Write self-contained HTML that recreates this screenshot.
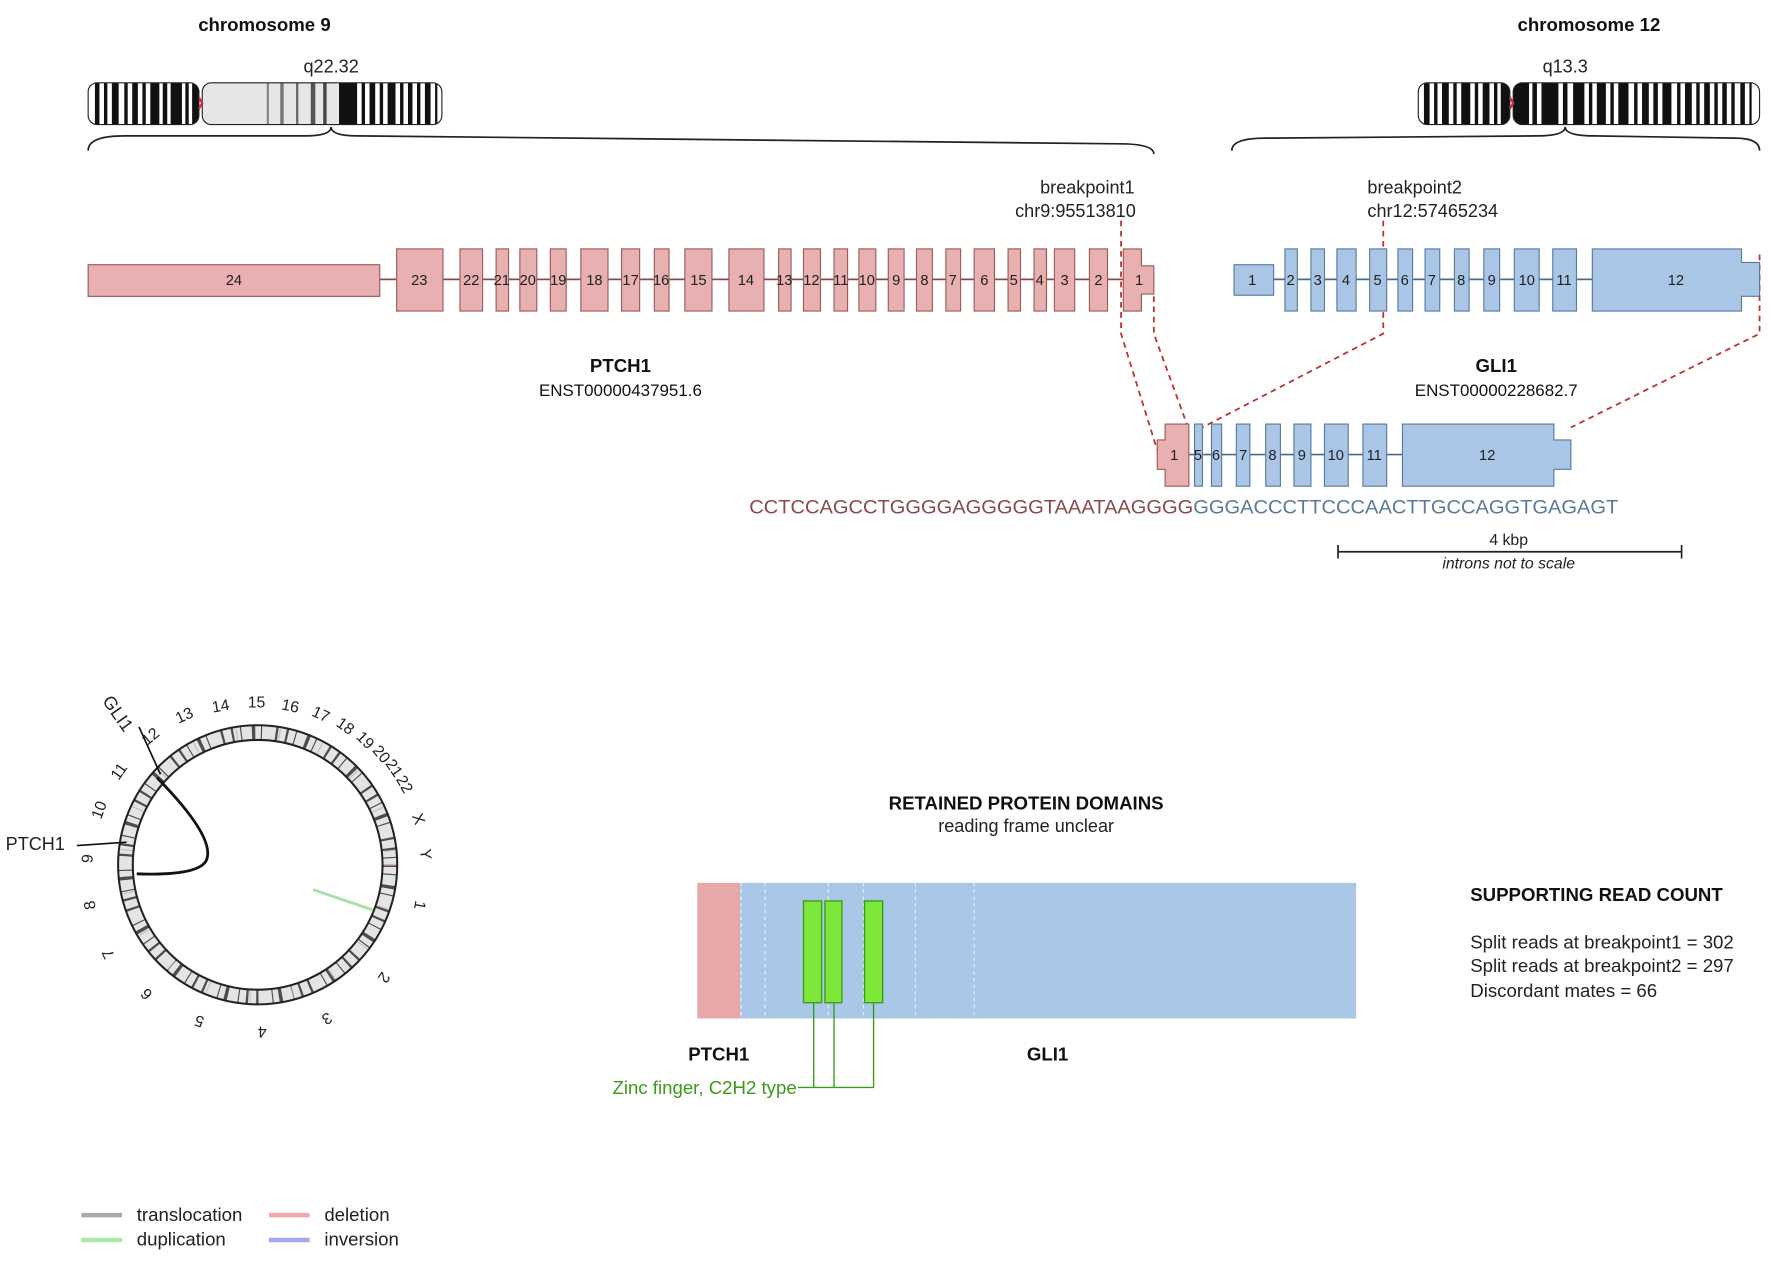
<!DOCTYPE html>
<html><head><meta charset="utf-8"><style>
html,body{margin:0;padding:0;background:#fff;}
svg{display:block;font-family:"Liberation Sans",sans-serif;}
</style></head><body>
<svg width="1772" height="1264" viewBox="0 0 1568 1118" xmlns="http://www.w3.org/2000/svg">
<defs>
<clipPath id="c9"><rect x="78" y="73" width="98" height="37" rx="8"/><rect x="179" y="73" width="212" height="37" rx="8"/></clipPath>
<clipPath id="c12"><rect x="1255" y="73" width="81" height="37" rx="8"/><rect x="1339" y="73" width="218" height="37" rx="8"/></clipPath>
</defs>
<!-- titles -->
<g font-weight="bold" font-size="16.5" text-anchor="middle" fill="#111">
<text x="234" y="27">chromosome 9</text>
<text x="1406" y="27">chromosome 12</text>
</g>
<g font-size="16" text-anchor="middle" fill="#222">
<text x="293" y="64">q22.32</text>
<text x="1385" y="64">q13.3</text>
</g>
<!-- chr9 ideogram -->
<g clip-path="url(#c9)">
<rect x="78" y="73" width="313" height="37" fill="#fff"/>
<rect x="180" y="73" width="120" height="37" fill="#e6e6e6"/>
<g fill="#111">
<rect x="84" y="73" width="4" height="37"/><rect x="92" y="73" width="3" height="37"/><rect x="99" y="73" width="6" height="37"/><rect x="110" y="73" width="3" height="37"/><rect x="117" y="73" width="5" height="37"/><rect x="126" y="73" width="3" height="37"/><rect x="133" y="73" width="8" height="37"/><rect x="144" y="73" width="4" height="37"/><rect x="151" y="73" width="10" height="37"/><rect x="164" y="73" width="3" height="37"/><rect x="170" y="73" width="6" height="37"/>
<rect x="236" y="73" width="2" height="37" fill="#888"/><rect x="248" y="73" width="3" height="37" fill="#777"/><rect x="262" y="73" width="2" height="37" fill="#666"/><rect x="275" y="73" width="4" height="37" fill="#555"/><rect x="286" y="73" width="3" height="37" fill="#444"/>
<rect x="300" y="73" width="16" height="37"/><rect x="320" y="73" width="3" height="37"/><rect x="327" y="73" width="5" height="37"/><rect x="336" y="73" width="3" height="37"/><rect x="343" y="73" width="7" height="37"/><rect x="354" y="73" width="3" height="37"/><rect x="361" y="73" width="4" height="37"/><rect x="369" y="73" width="3" height="37"/><rect x="376" y="73" width="5" height="37"/><rect x="385" y="73" width="2" height="37"/>
</g>
</g>
<rect x="78" y="73" width="98" height="37" rx="8" fill="none" stroke="#222"/>
<rect x="179" y="73" width="212" height="37" rx="8" fill="none" stroke="#222"/>
<path d="M176 86 L179 91 L176 96" stroke="#c33" fill="none" stroke-width="2"/>
<!-- chr12 ideogram -->
<g clip-path="url(#c12)">
<rect x="1255" y="73" width="302" height="37" fill="#fff"/>
<g fill="#111">
<rect x="1260" y="73" width="5" height="37"/><rect x="1269" y="73" width="3" height="37"/><rect x="1276" y="73" width="6" height="37"/><rect x="1286" y="73" width="3" height="37"/><rect x="1293" y="73" width="8" height="37"/><rect x="1305" y="73" width="3" height="37"/><rect x="1312" y="73" width="6" height="37"/><rect x="1322" y="73" width="3" height="37"/><rect x="1328" y="73" width="8" height="37"/>
<rect x="1339" y="73" width="14" height="37"/><rect x="1356" y="73" width="4" height="37"/><rect x="1364" y="73" width="15" height="37"/><rect x="1383" y="73" width="4" height="37"/><rect x="1392" y="73" width="10" height="37"/><rect x="1406" y="73" width="3" height="37"/><rect x="1413" y="73" width="8" height="37"/><rect x="1425" y="73" width="3" height="37"/><rect x="1432" y="73" width="9" height="37"/><rect x="1446" y="73" width="3" height="37"/><rect x="1453" y="73" width="6" height="37"/><rect x="1463" y="73" width="4" height="37"/><rect x="1471" y="73" width="8" height="37"/><rect x="1484" y="73" width="3" height="37"/><rect x="1491" y="73" width="6" height="37"/><rect x="1501" y="73" width="3" height="37"/><rect x="1508" y="73" width="5" height="37"/><rect x="1517" y="73" width="3" height="37"/><rect x="1524" y="73" width="4" height="37"/><rect x="1532" y="73" width="3" height="37"/><rect x="1540" y="73" width="4" height="37"/><rect x="1548" y="73" width="2" height="37"/>
</g>
</g>
<rect x="1255" y="73" width="81" height="37" rx="8" fill="none" stroke="#222"/>
<rect x="1339" y="73" width="218" height="37" rx="8" fill="none" stroke="#222"/>
<path d="M1336 86 L1339 91 L1336 96" stroke="#c33" fill="none" stroke-width="2"/>
<!-- braces -->
<path d="M78 133 Q78 120 110 120 L270 120 Q293 120 293 112 Q293 120 316 120 L990 127 Q1021 127 1021 136" fill="none" stroke="#222" stroke-width="1.5"/>
<path d="M1090 133 Q1090 122 1120 122 L1360 120 Q1385 120 1385 112 Q1385 120 1410 120 L1535 122 Q1557 122 1557 133" fill="none" stroke="#222" stroke-width="1.5"/>
<!-- breakpoint labels -->
<g font-size="16" fill="#222">
<text x="1004" y="171" text-anchor="end">breakpoint1</text>
<text x="1005" y="192" text-anchor="end">chr9:95513810</text>
<text x="1210" y="171">breakpoint2</text>
<text x="1210" y="192">chr12:57465234</text>
</g>
<!-- dashed connectors -->
<g stroke="#b33" stroke-width="1.6" stroke-dasharray="5,4" fill="none">
<path d="M992 195 L992 295 L1024 398"/>
<path d="M1021 262 L1021 295 L1052 380"/>
<path d="M1224 195 L1224 295 L1060 380"/>
<path d="M1557 225 L1557 295 L1390 378"/>
</g>
<!-- PTCH1 gene -->
<line x1="336" y1="247" x2="1021" y2="247" stroke="#8a4a4a" stroke-width="1.5"/>
<g fill="#e8b0b0" stroke="#9a5a5a" stroke-width="1">
<rect x="78" y="234" width="258" height="28"/>
<rect x="351" y="220" width="41" height="55"/>
<rect x="407" y="220" width="20" height="55"/>
<rect x="439" y="220" width="11" height="55"/>
<rect x="460" y="220" width="15" height="55"/>
<rect x="487" y="220" width="14" height="55"/>
<rect x="514" y="220" width="24" height="55"/>
<rect x="550" y="220" width="16" height="55"/>
<rect x="579" y="220" width="13" height="55"/>
<rect x="606" y="220" width="24" height="55"/>
<rect x="645" y="220" width="31" height="55"/>
<rect x="689" y="220" width="11" height="55"/>
<rect x="711" y="220" width="15" height="55"/>
<rect x="738" y="220" width="12" height="55"/>
<rect x="760" y="220" width="15" height="55"/>
<rect x="786" y="220" width="14" height="55"/>
<rect x="811" y="220" width="14" height="55"/>
<rect x="837" y="220" width="13" height="55"/>
<rect x="862" y="220" width="18" height="55"/>
<rect x="892" y="220" width="11" height="55"/>
<rect x="915" y="220" width="11" height="55"/>
<rect x="933" y="220" width="18" height="55"/>
<rect x="964" y="220" width="16" height="55"/>
<path d="M994 220 H1010 V235 H1021 V260 H1010 V275 H994 Z"/>
</g>
<g font-size="13" text-anchor="middle" fill="#222">
<text x="207" y="252">24</text><text x="371" y="252">23</text><text x="417" y="252">22</text><text x="444" y="252">21</text><text x="467" y="252">20</text><text x="494" y="252">19</text><text x="526" y="252">18</text><text x="558" y="252">17</text><text x="585" y="252">16</text><text x="618" y="252">15</text><text x="660" y="252">14</text><text x="694" y="252">13</text><text x="718" y="252">12</text><text x="744" y="252">11</text><text x="767" y="252">10</text><text x="793" y="252">9</text><text x="818" y="252">8</text><text x="843" y="252">7</text><text x="871" y="252">6</text><text x="897" y="252">5</text><text x="920" y="252">4</text><text x="942" y="252">3</text><text x="972" y="252">2</text><text x="1008" y="252">1</text>
</g>
<!-- GLI1 gene -->
<line x1="1092" y1="247" x2="1557" y2="247" stroke="#4a6a8a" stroke-width="1.5"/>
<g fill="#aac6e6" stroke="#5a7a9a" stroke-width="1">
<rect x="1092" y="234" width="35" height="27"/>
<rect x="1137" y="220" width="11" height="55"/>
<rect x="1160" y="220" width="12" height="55"/>
<rect x="1183" y="220" width="17" height="55"/>
<rect x="1212" y="220" width="15" height="55"/>
<rect x="1237" y="220" width="13" height="55"/>
<rect x="1261" y="220" width="13" height="55"/>
<rect x="1287" y="220" width="13" height="55"/>
<rect x="1313" y="220" width="14" height="55"/>
<rect x="1340" y="220" width="22" height="55"/>
<rect x="1374" y="220" width="21" height="55"/>
<path d="M1409 220 H1541 V232 H1557 V262 H1541 V275 H1409 Z"/>
</g>
<g font-size="13" text-anchor="middle" fill="#222">
<text x="1108" y="252">1</text><text x="1142" y="252">2</text><text x="1166" y="252">3</text><text x="1191" y="252">4</text><text x="1219" y="252">5</text><text x="1243" y="252">6</text><text x="1267" y="252">7</text><text x="1293" y="252">8</text><text x="1320" y="252">9</text><text x="1351" y="252">10</text><text x="1384" y="252">11</text><text x="1483" y="252">12</text>
</g>
<!-- gene labels -->
<g text-anchor="middle" fill="#111">
<text x="549" y="329" font-size="16.5" font-weight="bold">PTCH1</text>
<text x="549" y="350" font-size="15">ENST00000437951.6</text>
<text x="1324" y="329" font-size="16.5" font-weight="bold">GLI1</text>
<text x="1324" y="350" font-size="15">ENST00000228682.7</text>
</g>
<!-- fusion -->
<line x1="1024" y1="402" x2="1390" y2="402" stroke="#4a6a8a" stroke-width="1.5"/>
<g stroke-width="1">
<path d="M1024 389 H1031 V375 H1052 V430 H1031 V415 H1024 Z" fill="#e8b0b0" stroke="#9a5a5a"/>
<g fill="#aac6e6" stroke="#5a7a9a">
<rect x="1057" y="375" width="7" height="55"/>
<rect x="1072" y="375" width="9" height="55"/>
<rect x="1094" y="375" width="12" height="55"/>
<rect x="1120" y="375" width="13" height="55"/>
<rect x="1145" y="375" width="15" height="55"/>
<rect x="1172" y="375" width="21" height="55"/>
<rect x="1206" y="375" width="21" height="55"/>
<path d="M1241 375 H1375 V389 H1390 V415 H1375 V430 H1241 Z"/>
</g>
</g>
<g font-size="13" text-anchor="middle" fill="#222">
<text x="1039" y="407">1</text><text x="1060" y="407">5</text><text x="1076" y="407">6</text><text x="1100" y="407">7</text><text x="1126" y="407">8</text><text x="1152" y="407">9</text><text x="1182" y="407">10</text><text x="1216" y="407">11</text><text x="1316" y="407">12</text>
</g>
<text x="663" y="454" font-size="17" textLength="769" lengthAdjust="spacingAndGlyphs"><tspan fill="#8a4a4a">CCTCCAGCCTGGGGAGGGGGTAAATAAGGGG</tspan><tspan fill="#5a7a9a">GGGACCCTTCCCAACTTGCCAGGTGAGAGT</tspan></text>
<!-- scale -->
<text x="1335" y="482" font-size="14" text-anchor="middle" fill="#222">4 kbp</text>
<path d="M1184 482 V494 M1184 488 H1488 M1488 482 V494" stroke="#222" stroke-width="1.5" fill="none"/>
<text x="1335" y="503" font-size="14" font-style="italic" text-anchor="middle" fill="#222">introns not to scale</text>
<!-- circos -->
<circle cx="228" cy="765" r="117" fill="none" stroke="#e4e4e4" stroke-width="12"/>
<circle cx="228" cy="765" r="117" fill="none" stroke="#333" stroke-width="12" stroke-dasharray="2,6,1,9,3,5,1,12,2,7" opacity="0.85"/>
<circle cx="228" cy="765" r="117" fill="none" stroke="#d9a0a0" stroke-width="10" stroke-dasharray="1,37" opacity="0.7"/>
<circle cx="228" cy="765" r="123.5" fill="none" stroke="#222" stroke-width="1.8"/>
<circle cx="228" cy="765" r="110.5" fill="none" stroke="#222" stroke-width="1.8"/>
<path d="M139 688 Q190 740 183 760 Q178 775 121 773" fill="none" stroke="#111" stroke-width="2.5"/>
<line x1="277" y1="787" x2="330" y2="805" stroke="#a8e0a8" stroke-width="2.5"/>
<line x1="68" y1="748" x2="112" y2="745" stroke="#111" stroke-width="1.5"/>
<text x="5" y="752" font-size="16" fill="#222">PTCH1</text>
<line x1="123" y1="643" x2="142" y2="685" stroke="#111" stroke-width="1.5"/>
<text x="0" y="0" font-size="16" fill="#222" transform="translate(90,620) rotate(55)">GLI1</text>
<g font-size="14" fill="#222" text-anchor="middle">
<text transform="translate(136,655) rotate(-40)">12</text>
<text transform="translate(165,637) rotate(-25)">13</text>
<text transform="translate(196,629) rotate(-10)">14</text>
<text transform="translate(227,626)">15</text>
<text transform="translate(256,629) rotate(12)">16</text>
<text transform="translate(282,636) rotate(25)">17</text>
<text transform="translate(303,646) rotate(35)">18</text>
<text transform="translate(320,658) rotate(45)">19</text>
<text transform="translate(334,670) rotate(50)">20</text>
<text transform="translate(345,682) rotate(55)">21</text>
<text transform="translate(354,696) rotate(60)">22</text>
<text transform="translate(366,726) rotate(70)">X</text>
<text transform="translate(372,756) rotate(85)">Y</text>
<text transform="translate(367,800) rotate(100)">1</text>
<text transform="translate(336,862) rotate(125)">2</text>
<text transform="translate(287,897) rotate(150)">3</text>
<text transform="translate(232,908) rotate(180)">4</text>
<text transform="translate(178,899) rotate(-160)">5</text>
<text transform="translate(133,876) rotate(-135)">6</text>
<text transform="translate(100,842) rotate(-115)">7</text>
<text transform="translate(84,800) rotate(-100)">8</text>
<text transform="translate(82,760) rotate(-85)">9</text>
<text transform="translate(92,718) rotate(-70)">10</text>
<text transform="translate(109,685) rotate(-55)">11</text>
</g>
<!-- protein domains -->
<text x="908" y="716" font-size="16.5" font-weight="bold" text-anchor="middle" fill="#111">RETAINED PROTEIN DOMAINS</text>
<text x="908" y="736" font-size="16" text-anchor="middle" fill="#222">reading frame unclear</text>
<rect x="617" y="781" width="38" height="120" fill="#e8a8a8"/>
<rect x="655" y="781" width="545" height="120" fill="#a9c7e6"/>
<g stroke="#e8f0f8" stroke-width="1" stroke-dasharray="3,3">
<line x1="656" y1="781" x2="656" y2="901"/><line x1="677" y1="781" x2="677" y2="901"/><line x1="733" y1="781" x2="733" y2="901"/><line x1="764" y1="781" x2="764" y2="901"/><line x1="810" y1="781" x2="810" y2="901"/><line x1="862" y1="781" x2="862" y2="901"/>
</g>
<g fill="#7ee83a" stroke="#3a9a1a" stroke-width="1.2">
<rect x="711" y="797" width="16" height="90"/>
<rect x="730" y="797" width="15" height="90"/>
<rect x="765" y="797" width="16" height="90"/>
</g>
<path d="M720 887 V962 M738 887 V962 M773 887 V962 H706" stroke="#3a9a1a" stroke-width="1.2" fill="none"/>
<text x="705" y="968" font-size="16.5" text-anchor="end" fill="#3a9a1a">Zinc finger, C2H2 type</text>
<text x="636" y="938" font-size="16.5" font-weight="bold" text-anchor="middle" fill="#111">PTCH1</text>
<text x="927" y="938" font-size="16.5" font-weight="bold" text-anchor="middle" fill="#111">GLI1</text>
<!-- supporting reads -->
<text x="1301" y="797" font-size="16.5" font-weight="bold" fill="#111">SUPPORTING READ COUNT</text>
<g font-size="16.5" fill="#222">
<text x="1301" y="839">Split reads at breakpoint1 = 302</text>
<text x="1301" y="860">Split reads at breakpoint2 = 297</text>
<text x="1301" y="882">Discordant mates = 66</text>
</g>
<!-- legend -->
<g stroke-width="4">
<line x1="72" y1="1075" x2="108" y2="1075" stroke="#aaa"/>
<line x1="238" y1="1075" x2="274" y2="1075" stroke="#f0a8a8"/>
<line x1="72" y1="1097" x2="108" y2="1097" stroke="#a8e8a8"/>
<line x1="238" y1="1097" x2="274" y2="1097" stroke="#a8a8e8"/>
</g>
<g font-size="16.5" fill="#222">
<text x="121" y="1080">translocation</text>
<text x="287" y="1080">deletion</text>
<text x="121" y="1102">duplication</text>
<text x="287" y="1102">inversion</text>
</g>
</svg>
</body></html>
